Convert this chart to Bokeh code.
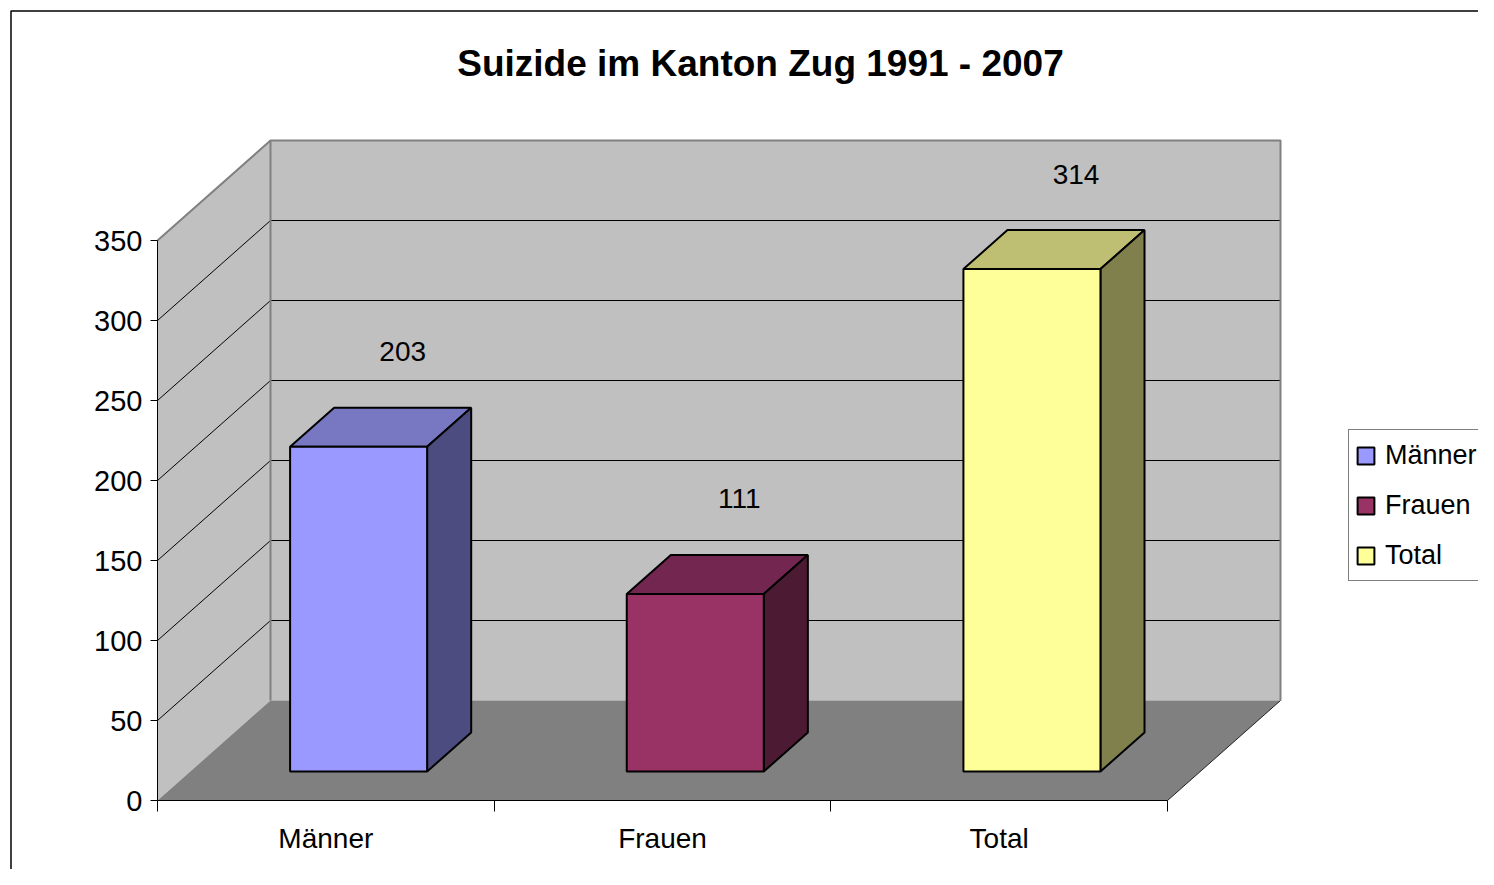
from bokeh.plotting import figure
from bokeh.models import (Range1d, LinearAxis, FixedTicker, Legend,
                          LegendItem, ColumnDataSource)
from bokeh.embed import file_html
from bokeh.resources import INLINE
from bokeh.core.properties import value

# ---------------- data ----------------
title_text = "Suizide im Kanton Zug 1991 - 2007"
categories = ["Männer", "Frauen", "Total"]
values = [203, 111, 314]
front_colors = ["#9999FF", "#993366", "#FFFF99"]
top_colors = ["#7777C2", "#732650", "#BFBF73"]
side_colors = ["#4C4C80", "#4D1A33", "#80804D"]
y_ticks = [0, 50, 100, 150, 200, 250, 300, 350]
y_max = 350

# ---------------- layout helpers ----------------
W, H = 1478, 869
SX = (1167 - 157) / 3.0          # px per category
SY = (800 - 240) / 350.0         # px per unit
def X(px):
    return (px - 157) / SX
def Y(py):
    return (800 - py) / SY

DX = 113 / SX     # depth offset in x (data units)
DY = 100 / SY     # depth offset in y (data units)
F1, F2 = 0.29, 0.68   # bar front/back depth fraction
BW = 0.407            # bar width (category units)
NC = len(categories)

FONT = value("Liberation Sans")

p = figure(width=W, height=H,
           x_range=Range1d(X(0), X(W)), y_range=Range1d(Y(H), Y(0)),
           output_backend="svg", toolbar_location=None, min_border=0,
           x_axis_type=None, y_axis_type=None, outline_line_color=None,
           background_fill_color="white", border_fill_color="white")

# outer chart border (left and top edges visible)
p.line([X(10.5), X(10.5), X(W + 5)], [Y(H + 5), Y(10.5), Y(10.5)],
       line_color="black", line_width=1.5)

# ---------------- walls / floor ----------------
p.patch([0, 0, DX, DX], [0, y_max, y_max + DY, DY], fill_color="#C0C0C0", line_color=None)
p.patch([DX, DX, NC + DX, NC + DX], [DY, y_max + DY, y_max + DY, DY],
        fill_color="#C0C0C0", line_color=None)
p.patch([0, NC, NC + DX, DX], [0, 0, DY, DY], fill_color="#808080", line_color=None)

# gridlines on side wall and back wall
gx, gy = [], []
for t in y_ticks:
    if 0 < t < y_max:
        gx.append([0, DX, NC + DX])
        gy.append([t, t + DY, t + DY])
p.multi_line(gx, gy, line_color="black", line_width=1)

# wall edges
p.multi_line([[0, DX, NC + DX, NC + DX], [DX, DX]],
             [[y_max, y_max + DY, y_max + DY, DY], [DY, y_max + DY]],
             line_color="#808080", line_width=2)
p.line([NC, NC + DX], [0, DY], line_color="#202020", line_width=1)

# ---------------- bars ----------------
fx, fy, tx, ty, sx_, sy_ = [], [], [], [], [], []
for i, v in enumerate(values):
    c = i + 0.5
    xl1, xr1 = c - BW / 2 + F1 * DX, c + BW / 2 + F1 * DX
    xl2, xr2 = c - BW / 2 + F2 * DX, c + BW / 2 + F2 * DX
    b1, b2 = F1 * DY, F2 * DY
    fx.append([xl1, xr1, xr1, xl1]); fy.append([b1, b1, v + b1, v + b1])
    tx.append([xl1, xr1, xr2, xl2]); ty.append([v + b1, v + b1, v + b2, v + b2])
    sx_.append([xr1, xr2, xr2, xr1]); sy_.append([b1, b2, v + b2, v + b1])

p.patches(tx, ty, fill_color=top_colors, line_color="black", line_width=2)
p.patches(sx_, sy_, fill_color=side_colors, line_color="black", line_width=2)
front_src = ColumnDataSource(dict(xs=fx, ys=fy, color=front_colors, name=categories))
front = p.patches("xs", "ys", source=front_src, fill_color="color",
                  line_color="black", line_width=2)

# data labels (centred above the back edge of each bar top)
LABEL_OFF = 56 / SY
p.text(x=[i + 0.5 + F2 * DX for i in range(NC)],
       y=[v + F2 * DY + LABEL_OFF for v in values],
       text=[str(v) for v in values], text_align="center", text_baseline="middle",
       text_font=FONT, text_font_size="28px", text_color="black")

# title
p.text(x=[X(760)], y=[Y(63)], text=[title_text], text_align="center",
       text_baseline="middle", text_font=FONT,
       text_font_style="bold", text_font_size="37px", text_color="black")

# ---------------- axes ----------------
yaxis = LinearAxis(fixed_location=0, bounds=(0, y_max), ticker=FixedTicker(ticks=y_ticks),
                   axis_line_color="black", axis_line_width=1,
                   major_tick_out=7, major_tick_in=0, minor_tick_out=0, minor_tick_in=0,
                   major_tick_line_color="black", major_label_standoff=8,
                   major_label_text_font="Liberation Sans", major_label_text_font_size="29px",
                   major_label_text_color="black")
p.add_layout(yaxis, "left")

xaxis = LinearAxis(fixed_location=0, bounds=(0, NC), ticker=FixedTicker(ticks=list(range(NC + 1))),
                   axis_line_color="black", axis_line_width=1,
                   major_tick_out=11, major_tick_in=0, minor_tick_out=0, minor_tick_in=0,
                   major_tick_line_color="black", major_label_text_color=None)
p.add_layout(xaxis, "below")

xlab = LinearAxis(fixed_location=0, ticker=FixedTicker(ticks=[i + 0.5 for i in range(NC)]),
                  major_label_overrides={i + 0.5: c for i, c in enumerate(categories)},
                  axis_line_color=None, major_tick_line_color=None, minor_tick_line_color=None,
                  major_tick_out=0, major_tick_in=0, major_label_standoff=22,
                  major_label_text_font="Liberation Sans", major_label_text_font_size="28px",
                  major_label_text_color="black")
p.add_layout(xlab, "below")

# ---------------- legend ----------------
legend = Legend(items=[LegendItem(label=c, renderers=[front], index=i)
                       for i, c in enumerate(categories)],
                location=(1348, H - 581), orientation="vertical",
                glyph_width=21, glyph_height=21, padding=6, spacing=12, label_height=38,
                label_standoff=9, margin=0,
                label_text_font="Liberation Sans", label_text_font_size="27px",
                label_text_color="black",
                border_line_color="black", border_line_width=1,
                background_fill_color="white", background_fill_alpha=1.0)
p.add_layout(legend, "center")

open("out.html", "w").write(file_html(p, INLINE))
